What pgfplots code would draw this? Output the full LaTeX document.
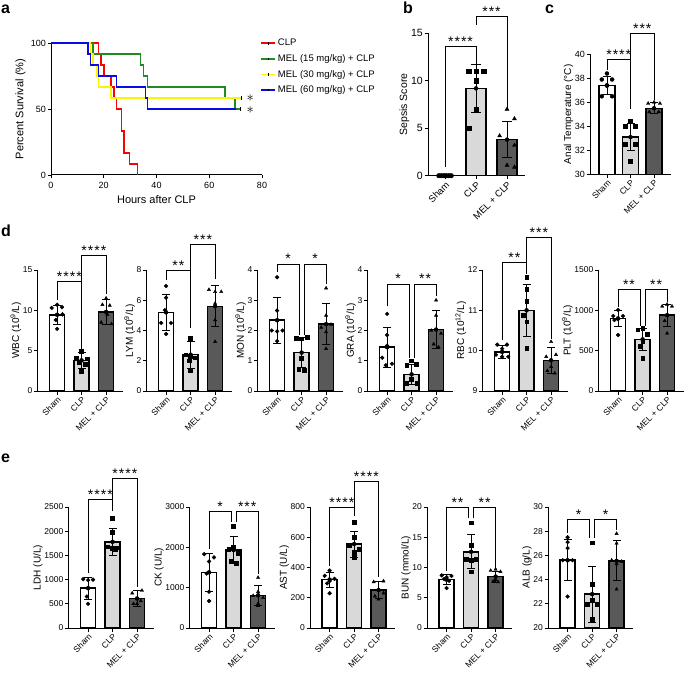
\documentclass[border=0pt]{standalone}
\usepackage{fontspec}
\setmainfont{Liberation Sans}
\usepackage{pgfplots}
\pgfplotsset{compat=1.18}
\definecolor{cgray}{RGB}{217,217,217}
\definecolor{dgray}{RGB}{89,89,89}
\definecolor{kmgreen}{RGB}{30,140,30}
\definecolor{kmyellow}{RGB}{250,245,0}
\definecolor{kmblue}{RGB}{10,10,230}
\newcommand\sk{\kern1pt}
\newcommand\fs[1]{\fontsize{#1}{#1}\selectfont}
\def\bw{0.62}\def\cap{4pt}\def\ms{1.9pt}
\newcommand\grp[6]{%
 \addplot[ybar, bar shift=0pt, bar width=\bw, fill=#4, draw=black, line width=1.5pt] coordinates {(#1,#2)};
 \addplot[only marks, mark=none, error bars/.cd, y dir=both, y explicit,
   error bar style={line width=0.8pt, black},
   error mark options={rotate=90, mark size=\cap, line width=0.8pt, black}] coordinates {(#1,#2) +- (0,#3)};
 \addplot[only marks, mark=#5, mark size=\ms, black, x filter/.expression={x+#1}] coordinates {#6};
}
\newcommand\brk[7]{%
 \draw[line width=0.8pt] (axis cs:#1,#5) -- (axis cs:#1,#4) -- (axis cs:#2,#4) -- (axis cs:#2,#6);
 \node[anchor=base, inner sep=0pt, font=\fs{14}] at (axis cs:#3,#4) {#7};
}
\pgfplotsset{
  gp/.style={scale only axis, clip mode=individual,
    axis x line=bottom, axis y line=left,
    axis line style={-, line width=1pt, black},
    tick align=outside, major tick length=3.5pt,
    tick style={line width=0.9pt, black},
    /pgf/number format/assume math mode=true,
    /pgf/number format/1000 sep={},
    scaled y ticks=false,
    yticklabel style={inner sep=1.5pt},
  },
  bars/.style={gp, xmin=-0.8, xmax=2.67, width=85pt, height=121pt,
    xtick={0,1,2}, xticklabels={Sham,CLP,MEL + CLP},
    x tick label style={rotate=45, anchor=north east, inner sep=1pt, font=\fs{8.5}},
    yticklabel style={font=\fs{8.5}},
    ylabel style={font=\fs{10}, inner sep=0pt},
  },
}
\begin{document}
\begin{tikzpicture}
\useasboundingbox (0,0) rectangle (685pt,-676pt);
\node[anchor=base west, inner sep=0pt, font=\bfseries\fs{16}] at (1pt,-14pt) {a};
\node[anchor=base west, inner sep=0pt, font=\bfseries\fs{16}] at (403pt,-14pt) {b};
\node[anchor=base west, inner sep=0pt, font=\bfseries\fs{16}] at (545pt,-14pt) {c};
\node[anchor=base west, inner sep=0pt, font=\bfseries\fs{16}] at (1pt,-237pt) {d};
\node[anchor=base west, inner sep=0pt, font=\bfseries\fs{16}] at (1pt,-462pt) {e};

% ---------------- a
\begin{axis}[gp, at={(51pt,-175pt)}, anchor=south west, width=211pt, height=132pt,
  xmin=0, xmax=80, ymin=0, ymax=100, xtick={0,20,40,60,80}, ytick={0,50,100},
  tick label style={font=\fs{9}},
  xlabel={Hours after CLP}, ylabel={Percent Survival (\%)},
  label style={font=\fs{11}},
  legend style={at={(0.99,1.045)}, anchor=north west, draw=none, fill=none, inner sep=0pt,
    row sep=3.3pt, font=\fs{9.5}},
  legend cell align=left,
  legend image code/.code={\draw[#1, line width=1.8pt] (0pt,0pt) -- (14pt,0pt);
     \draw[black, line width=0.4pt] (7pt,-1.2pt) -- (7pt,1.2pt);}]
\addplot[red, line width=1.6pt, const plot] coordinates {(0,100)(18,91.7)(19,83.3)(20,75)(22.7,66.7)(23.8,58.3)(24.9,50)(26.8,33.3)(27.6,16.7)(29.7,8.3)(32.8,0)};
\addlegendentry{CLP}
\addplot[kmgreen, line width=1.6pt, const plot] coordinates {(0,100)(16,91.7)(34,83.3)(35,75)(36.6,66.7)(66,58.3)(69.8,50)(71.8,50)};
\addlegendentry{MEL (15 mg/kg) + CLP}
\addplot[kmyellow, line width=1.6pt, const plot] coordinates {(0,100)(15,91.7)(16,83.3)(17.5,75)(18,66.7)(22.7,58.3)(72,58.3)};
\addlegendentry{MEL (30 mg/kg) + CLP}
\addplot[kmblue, line width=1.6pt, const plot] coordinates {(0,100)(14,91.7)(15,83.3)(18,75)(24.9,66.7)(35.8,58.3)(36.6,50)(70,50)};
\addlegendentry{MEL (60 mg/kg) + CLP}
\addplot[only marks, mark=|, mark size=2pt, black, line width=0.5pt, forget plot] coordinates {(71.8,50)(72,58.3)};
\node[font=\fs{15}] at (axis cs:75.5,58.3) {$\ast$};
\node[font=\fs{15}] at (axis cs:75.5,49.5) {$\ast$};
\end{axis}

% ---------------- b
\def\bw{0.645}\def\cap{5pt}\def\ms{2.3pt}
\begin{axis}[gp, at={(428pt,-175.7pt)}, anchor=south west, width=97pt, height=142.4pt,
  xmin=-0.55, xmax=2.58, ymin=0, ymax=15, ytick={0,5,10,15},
  xtick={0,1,2}, xticklabels={Sham,CLP,MEL + CLP},
  x tick label style={rotate=45, anchor=north east, inner sep=1pt, font=\fs{9.5}},
  yticklabel style={font=\fs{10.5}}, ylabel={Sepsis Score}, ylabel style={font=\fs{10.5}, inner sep=0pt}]
\grp{0}{0}{0}{white}{*}{(-0.2,0)(-0.12,0)(-0.04,0)(0.04,0)(0.12,0)(0.2,0)}
\grp{1}{9.2}{2.5}{cgray}{square*}{(-0.24,11)(0,11)(0.24,11)(0,10)(0,7)(-0.24,5)}
\grp{2}{3.8}{1.9}{dgray}{triangle*}{(0,7)(0.24,6)(-0.24,4.2)(0.24,3.2)(0,1.1)(0.24,0.9)}
\brk{0}{1}{0.5}{13.6}{0.9}{11.8}{*\sk*\sk*\sk*}
\brk{1}{2}{1.5}{16.8}{15.9}{7.0}{*\sk*\sk*}
\end{axis}

% ---------------- c
\def\bw{0.67}\def\cap{4pt}\def\ms{2pt}
\begin{axis}[gp, at={(590pt,-174.3pt)}, anchor=south west, width=81pt, height=120pt,
  xmin=-0.72, xmax=2.72, ymin=30, ymax=40, ytick={30,32,34,36,38,40},
  xtick={0,1,2}, xticklabels={Sham,CLP,MEL + CLP},
  x tick label style={rotate=45, anchor=north east, inner sep=1pt, font=\fs{8.5}},
  yticklabel style={font=\fs{9}}, ylabel={Anal Temperature (°C)}, ylabel style={font=\fs{10}, inner sep=0pt}]
\grp{0}{37.4}{0.75}{white}{*}{(0,38.4)(-0.22,37.9)(0.22,37.9)(0,37.4)(-0.22,36.5)(0.22,36.5)}
\grp{1}{33.1}{1.15}{cgray}{square*}{(0,34.4)(-0.22,34.0)(0.22,34.0)(-0.22,32.5)(0.22,32.5)(0,31.1)}
\grp{2}{35.5}{0.45}{dgray}{triangle*}{(-0.25,35.9)(0,36.0)(0.25,35.9)(0,35.5)(-0.2,35.2)(0.2,35.2)}
\brk{0}{1}{0.5}{39.58}{38.7}{35.4}{*\sk*\sk*\sk*}
\brk{1}{2}{1.5}{41.75}{39.58}{36.2}{*\sk*\sk*}
\end{axis}

% ---------------- d
\def\bw{0.62}\def\cap{4pt}\def\ms{1.9pt}
\begin{axis}[bars, at={(37.5pt,-391pt)}, anchor=south west, ymin=0, ymax=15, ytick={0,5,10,15},
  ylabel={WBC (10\textsuperscript{9}/L)}]
\grp{0}{9.45}{1.15}{white}{*}{(-0.22,10.3)(0,10.7)(0.2,10.4)(0.22,9.5)(-0.05,8.8)(0,7.7)}
\grp{1}{3.8}{0.95}{cgray}{square*}{(0,4.9)(-0.22,4.1)(0.22,4.0)(-0.12,3.5)(0.15,3.3)(0,2.5)}
\grp{2}{9.8}{1.55}{dgray}{triangle*}{(0,11.5)(-0.15,10.7)(0.15,10.6)(0.05,9.5)(-0.2,8.5)(0.22,8.3)}
\brk{0}{1}{0.5}{13.6}{11.3}{5.1}{*\sk*\sk*\sk*}
\brk{1}{2}{1.5}{16.8}{13.6}{12.0}{*\sk*\sk*\sk*}
\end{axis}

\begin{axis}[bars, at={(146.5pt,-391pt)}, anchor=south west, ymin=0, ymax=8, ytick={0,2,4,6,8},
  ylabel={LYM (10\textsuperscript{9}/L)}]
\grp{0}{5.2}{1.17}{white}{*}{(0,6.94)(0,6.17)(-0.05,5.35)(-0.2,4.5)(0.2,4.5)(0,3.77)}
\grp{1}{2.4}{0.88}{cgray}{square*}{(0,3.48)(-0.2,2.4)(0,2.3)(0.2,2.2)(-0.05,2.0)(0,1.4)}
\grp{2}{5.6}{1.35}{dgray}{triangle*}{(-0.25,6.7)(0,6.56)(0.25,6.56)(0,5.79)(0,4.69)(0,3.26)}
\brk{0}{1}{0.5}{8.0}{7.35}{4.15}{*\sk*}
\brk{1}{2}{1.5}{9.7}{8.0}{7.4}{*\sk*\sk*}
\end{axis}

\begin{axis}[bars, at={(257.5pt,-391pt)}, anchor=south west, ymin=0, ymax=4, ytick={0,1,2,3,4},
  ylabel={MON (10\textsuperscript{9}/L)}]
\grp{0}{2.34}{0.76}{white}{*}{(0,3.76)(0,2.66)(-0.22,2.0)(0,1.97)(0.22,2.0)(0,1.65)}
\grp{1}{1.27}{0.5}{cgray}{square*}{(-0.22,1.75)(0,1.73)(0.22,1.77)(0,1.09)(-0.12,0.71)(0.12,0.68)}
\grp{2}{2.21}{0.68}{dgray}{triangle*}{(0,3.4)(0,2.5)(0.2,2.2)(-0.2,2.1)(0,1.95)(0,1.4)}
\brk{0}{0.89}{0.445}{4.2}{3.95}{1.85}{*}
\brk{1.11}{2}{1.555}{4.2}{1.85}{3.55}{*}
\end{axis}

\begin{axis}[bars, at={(367.5pt,-391pt)}, anchor=south west, ymin=0, ymax=4, ytick={0,1,2,3,4},
  ylabel={GRA (10\textsuperscript{9}/L)}]
\grp{0}{1.45}{0.66}{white}{*}{(0,2.55)(0,1.85)(0,1.5)(-0.2,1.1)(0.2,0.9)(-0.05,0.85)}
\grp{1}{0.55}{0.34}{cgray}{square*}{(0,1.0)(-0.2,0.85)(0.2,0.88)(0,0.4)(-0.22,0.25)(0.22,0.25)}
\grp{2}{2.03}{0.63}{dgray}{triangle*}{(0,3.0)(0,2.5)(-0.2,2.0)(0.2,1.9)(-0.1,1.55)(0.1,1.45)}
\brk{0}{0.89}{0.445}{3.54}{2.8}{1.1}{*}
\brk{1.11}{2}{1.555}{3.54}{1.1}{3.15}{*\sk*}
\end{axis}

\begin{axis}[bars, at={(482.5pt,-391pt)}, anchor=south west, ymin=9, ymax=12, ytick={9,10,11,12},
  ylabel={RBC (10\textsuperscript{12}/L)}]
\grp{0}{9.97}{0.17}{white}{*}{(-0.2,10.15)(0.2,10.15)(0,10.05)(-0.25,9.9)(0,9.85)(0.25,9.85)}
\grp{1}{11.0}{0.64}{cgray}{square*}{(0,11.82)(0,11.52)(0,11.23)(-0.15,10.88)(0,10.72)(0,10.06)}
\grp{2}{9.76}{0.32}{dgray}{triangle*}{(0,10.22)(0.2,9.9)(-0.2,9.85)(0,9.6)(-0.15,9.5)(0.15,9.44)}
\brk{0}{1}{0.5}{12.19}{10.26}{11.9}{*\sk*}
\brk{1}{2}{1.5}{12.81}{12.19}{10.3}{*\sk*\sk*}
\end{axis}

\begin{axis}[bars, at={(598.5pt,-391pt)}, anchor=south west, ymin=0, ymax=1500, ytick={0,500,1000,1500},
  ylabel={PLT (10\textsuperscript{9}/L)}]
\grp{0}{900}{104}{white}{*}{(0,1004)(-0.2,930)(0.2,930)(0,890)(-0.15,880)(0,694)}
\grp{1}{640}{137}{cgray}{square*}{(0,780)(-0.2,760)(0.2,700)(0,620)(-0.1,560)(0,405)}
\grp{2}{940}{136}{dgray}{triangle*}{(0,1074)(-0.2,1050)(0.2,1050)(0,940)(-0.1,870)(0,715)}
\brk{0}{0.89}{0.445}{1260}{1045}{806}{*\sk*}
\brk{1.11}{2}{1.555}{1260}{806}{1107}{*\sk*}
\end{axis}

% ---------------- e
\begin{axis}[bars, at={(68.5pt,-628pt)}, anchor=south west, ymin=0, ymax=2500, ytick={0,500,1000,1500,2000,2500},
  ylabel={LDH (U/L)}]
\grp{0}{822}{230}{white}{*}{(-0.2,1010)(0,990)(0.2,1000)(0,830)(-0.05,650)(0,500)}
\grp{1}{1780}{275}{cgray}{square*}{(0,2267)(0,1973)(-0.2,1680)(0.2,1660)(0,1650)(0.1,1630)}
\grp{2}{610}{160}{dgray}{triangle*}{(0.2,774)(-0.2,720)(0,600)(0.15,560)(-0.15,500)(0,500)}
\brk{0}{1}{0.5}{2660}{1130}{2418}{*\sk*\sk*\sk*}
\brk{1}{2}{1.5}{3090}{2660}{842}{*\sk*\sk*\sk*}
\end{axis}

\begin{axis}[bars, at={(189.5pt,-628pt)}, anchor=south west, ymin=0, ymax=3000, ytick={0,1000,2000,3000},
  ylabel={CK (U/L)}]
\grp{0}{1380}{480}{white}{*}{(-0.2,1830)(0.2,1750)(0,1650)(-0.1,1350)(0,900)(0,670)}
\grp{1}{1930}{330}{cgray}{square*}{(0,2530)(0,2000)(-0.2,1950)(0.2,1850)(-0.1,1650)(0.1,1600)}
\grp{2}{810}{240}{dgray}{triangle*}{(0,1250)(0,900)(-0.2,800)(0.2,750)(0,600)(0,550)}
\brk{0}{0.89}{0.445}{2884}{1967}{2628}{*}
\brk{1.11}{2}{1.555}{2884}{2628}{1330}{*\sk*\sk*}
\end{axis}

\begin{axis}[bars, at={(310pt,-628pt)}, anchor=south west, ymin=0, ymax=800, ytick={0,200,400,600,800},
  ylabel={AST (U/L)}]
\grp{0}{320}{50}{white}{*}{(0,380)(-0.2,345)(0.2,325)(0,310)(-0.1,295)(0,230)}
\grp{1}{555}{85}{cgray}{square*}{(0,700)(0,598)(-0.2,550)(0.2,520)(0,500)(0,466)}
\grp{2}{250}{57}{dgray}{triangle*}{(0.2,310)(-0.2,305)(0,255)(0.2,230)(-0.15,210)(0,190)}
\brk{0}{1}{0.5}{800}{411}{741}{*\sk*\sk*\sk*}
\brk{1}{2}{1.5}{967}{800}{334}{*\sk*\sk*\sk*}
\end{axis}

\begin{axis}[bars, at={(427pt,-628pt)}, anchor=south west, ymin=0, ymax=20, ytick={0,5,10,15,20},
  ylabel={BUN (mmol/L)}]
\grp{0}{8.0}{0.8}{white}{*}{(-0.2,8.7)(0.2,8.6)(0,8.4)(-0.1,8.1)(0.1,7.8)(0,6.6)}
\grp{1}{12.6}{2.8}{cgray}{square*}{(0,17.4)(0,13.7)(-0.2,11.4)(0.2,11.4)(0,11.2)(0,9.3)}
\grp{2}{8.5}{0.9}{dgray}{triangle*}{(0,9.7)(-0.2,9.5)(0.2,9.3)(0,8.0)(-0.1,7.7)(0.1,7.6)}
\brk{0}{0.89}{0.445}{19.9}{9.45}{18.1}{*\sk*}
\brk{1.11}{2}{1.555}{19.9}{18.1}{9.9}{*\sk*}
\end{axis}

\begin{axis}[bars, at={(548pt,-628pt)}, anchor=south west, ymin=20, ymax=30, ytick={20,22,24,26,28,30},
  ylabel={ALB (g/L)}]
\grp{0}{25.6}{1.7}{white}{*}{(0,27.5)(0,27.1)(0,26.6)(-0.2,25.6)(0.2,25.6)(0,22.6)}
\grp{1}{22.8}{2.3}{cgray}{square*}{(0,27.05)(0,23.6)(0,22.3)(-0.2,22.0)(0.2,22.0)(0,20.7)}
\grp{2}{25.55}{1.65}{dgray}{triangle*}{(0,27.8)(0,27.0)(-0.2,25.6)(0.2,25.5)(0,25.3)(0,23.2)}
\brk{0}{0.89}{0.445}{28.98}{27.88}{27.47}{*}
\brk{1.11}{2}{1.555}{28.98}{27.47}{28.1}{*}
\end{axis}
\end{tikzpicture}
\end{document}
